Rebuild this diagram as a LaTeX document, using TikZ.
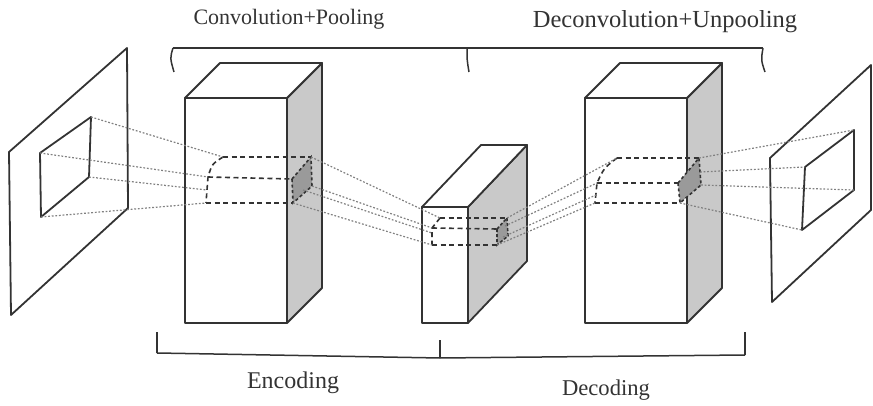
\documentclass[tikz,border=0pt]{standalone}
\usepackage{fontspec}
\setmainfont{Liberation Serif}
\definecolor{ink}{HTML}{333333}
\definecolor{sidegray}{HTML}{C9C9C9}
\definecolor{patchgray}{HTML}{9A9A9A}
\definecolor{dotgray}{HTML}{808080}
\tikzset{
  edge/.style={draw=ink, line width=1.8pt, line join=round},
  tube/.style={draw=ink, line width=1.6pt, dash pattern=on 5pt off 3.5pt},
  ray/.style={draw=dotgray, line width=1.2pt, dash pattern=on 1.8pt off 1.8pt},
  label/.style={text=ink, inner sep=0pt}
}
\newcommand{\mycuboid}[7]{% name, x1, y1, x2, y2, dx, dy
  \coordinate (#1fa) at (#2,#3);
  \coordinate (#1fb) at (#4,#3);
  \coordinate (#1fc) at (#4,#5);
  \coordinate (#1fd) at (#2,#5);
  \coordinate (#1ba) at ($(#1fa)+(#6,#7)$);
  \coordinate (#1bb) at ($(#1fb)+(#6,#7)$);
  \coordinate (#1bc) at ($(#1fc)+(#6,#7)$);
  \path[edge, fill=white] (#1fa) -- (#1fb) -- (#1fc) -- (#1fd) -- cycle;
  \path[edge, fill=sidegray] (#1fb) -- (#1bb) -- (#1bc) -- (#1fc) -- cycle;
  \path[edge, fill=white] (#1fa) -- (#1ba) -- (#1bb) -- (#1fb) -- cycle;
}
\usetikzlibrary{calc}
\begin{document}
\begin{tikzpicture}[x=1pt, y=-1pt]
\useasboundingbox (0,0) rectangle (873,406);

% left input plane
\coordinate (lp1) at (9,152);
\coordinate (lp2) at (127,48);
\coordinate (lp3) at (128,208);
\coordinate (lp4) at (11,315);
\path[edge] (lp1) -- (lp2) -- (lp3) -- (lp4) -- cycle;
\coordinate (li1) at (40,153);
\coordinate (li2) at (91,117);
\coordinate (li3) at (89,177);
\coordinate (li4) at (41,217);
\path[edge] (li1) -- (li2) -- (li3) -- (li4) -- cycle;

% right output plane
\coordinate (rp1) at (770,158);
\coordinate (rp2) at (871,65);
\coordinate (rp3) at (871,210);
\coordinate (rp4) at (772,302);
\path[edge] (rp1) -- (rp2) -- (rp3) -- (rp4) -- cycle;
\coordinate (ri1) at (805,167);
\coordinate (ri2) at (854,130);
\coordinate (ri3) at (854,190);
\coordinate (ri4) at (802,230);
\path[edge] (ri1) -- (ri2) -- (ri3) -- (ri4) -- cycle;

% cuboids
\mycuboid{A}{185}{98}{287}{323}{35}{-35}
\mycuboid{B}{422}{207}{468}{323}{59}{-62}
\mycuboid{C}{585}{98}{687}{323}{35}{-35}

% patches on side faces
\coordinate (pa1) at (292,179);
\coordinate (pa2) at (311,157);
\coordinate (pa3) at (312,186);
\coordinate (pa4) at (293,203);
\path[fill=patchgray] (pa1) -- (pa2) -- (pa3) -- (pa4) -- cycle;
\path[tube, dash pattern=on 3pt off 2.5pt] (pa1) -- (pa2) -- (pa3) -- (pa4) -- cycle;
\coordinate (pb1) at (497,229);
\coordinate (pb2) at (507,218);
\coordinate (pb3) at (508,236);
\coordinate (pb4) at (497,245);
\path[fill=patchgray] (pb1) -- (pb2) -- (pb3) -- (pb4) -- cycle;
\path[tube, dash pattern=on 3pt off 2pt] (pb1) -- (pb2) -- (pb3) -- (pb4) -- cycle;
\coordinate (pc1) at (678,183);
\coordinate (pc2) at (699,158);
\coordinate (pc3) at (701,185);
\coordinate (pc4) at (680,203);
\path[fill=patchgray] (pc1) -- (pc2) -- (pc3) -- (pc4) -- cycle;
\path[tube, dash pattern=on 3pt off 2.5pt] (pc1) -- (pc2) -- (pc3) -- (pc4) -- cycle;

% dashed tubes
\coordinate (ta1) at (223,157);
\coordinate (ta2) at (208,177);
\coordinate (ta3) at (206,203);
\path[tube] (ta1) -- (pa2);
\path[tube] (ta2) -- (pa1);
\path[tube] (ta3) -- (pa4);
\path[tube] (ta1) .. controls (212,164) .. (ta2) -- (ta3);

\coordinate (tb1) at (440,218);
\coordinate (tb2) at (432,228);
\coordinate (tb3) at (432,245);
\path[tube] (tb1) -- (pb2);
\path[tube] (tb2) -- (pb1);
\path[tube] (tb3) -- (pb4);
\path[tube] (tb1) -- (tb2) -- (tb3);

\coordinate (tc1) at (617,158);
\coordinate (tc2) at (597,183);
\coordinate (tc3) at (595,203);
\path[tube] (tc1) -- (pc2);
\path[tube] (tc2) -- (pc1);
\path[tube] (tc3) -- (pc4);
\path[tube] (tc1) .. controls (604,168) .. (tc2) -- (tc3);

% rays: input plane -> box A
\coordinate (ta4) at (207,190);
\path[ray] (li2) -- (ta1);
\path[ray] (li1) -- (ta2);
\path[ray] (li3) -- (ta4);
\path[ray] (li4) -- (ta3);

% rays: box A -> box B
\coordinate (pa5) at (303,190);
\coordinate (tb4) at (432,233);
\path[ray] (pa2) -- (tb1);
\path[ray] (pa3) -- (tb2);
\path[ray] (pa5) -- (tb4);
\path[ray] (pa4) -- (tb3);

% rays: box B -> box C
\coordinate (pb5) at (505,226);
\coordinate (pb6) at (503,237);
\coordinate (tc4) at (596,195);
\path[ray] (pb2) -- (tc1);
\path[ray] (pb5) -- (tc2);
\path[ray] (pb6) -- (tc4);
\path[ray] (pb4) -- (tc3);

% rays: box C -> output plane
\coordinate (pc5) at (700,172);
\path[ray] (pc2) -- (ri2);
\path[ray] (pc5) -- (ri1);
\path[ray] (pc3) -- (ri3);
\path[ray] (pc4) -- (ri4);

% top bracket
\coordinate (tbl) at (173,48);
\coordinate (tbm) at (467,48);
\coordinate (tbr) at (763,48);
\coordinate (tbl2) at (174,72);
\coordinate (tbm2) at (469,72);
\coordinate (tbr2) at (765,72);
\path[edge, line width=1.5pt] (tbl) -- (tbr);
\path[edge, line width=1.5pt] (tbl) .. controls (170,58) .. (tbl2);
\path[edge, line width=1.5pt] (tbm) .. controls (467,60) .. (tbm2);
\path[edge, line width=1.5pt] (tbr) .. controls (761,60) .. (tbr2);

% bottom bracket
\coordinate (bbl) at (157,353);
\coordinate (bbm) at (440,358);
\coordinate (bbr) at (745,355);
\coordinate (bbl2) at (157,332);
\coordinate (bbm2) at (440,340);
\coordinate (bbr2) at (745,332);
\path[edge, line width=1.5pt] (bbl) -- (bbm) -- (bbr);
\path[edge, line width=1.5pt] (bbl2) -- (bbl);
\path[edge, line width=1.5pt] (bbm2) -- (bbm);
\path[edge, line width=1.5pt] (bbr2) -- (bbr);

% labels
\node[label, font=\fontsize{22}{24}\selectfont] (conv) at (289,19) {Convolution+Pooling};
\node[label, font=\fontsize{24.5}{26}\selectfont] (deconv) at (665,22) {Deconvolution+Unpooling};
\node[label, font=\fontsize{24}{26}\selectfont] (enc) at (293,383) {Encoding};
\node[label, font=\fontsize{22.6}{24}\selectfont] (dec) at (606,390) {Decoding};
\end{tikzpicture}
\end{document}
